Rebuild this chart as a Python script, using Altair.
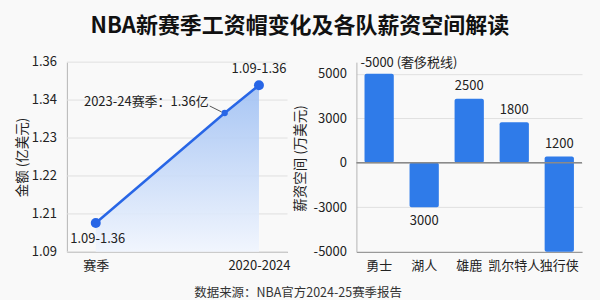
import altair as alt
import pandas as pd

FONT = "Noto Sans CJK SC"

# ---------- left panel data ----------
cap_x = [0.0, 0.79, 1.0]          # horizontal position of the three points
cap_y = [0.76, 3.66, 4.39]        # vertical position on the (evenly spaced) tick scale
cap_text = ["1.09-1.36", "2023-24赛季：1.36亿", "1.09-1.36"]
left_tick_pos = [0, 1, 2, 3, 4, 5]
left_tick_labels = ["1.09", "1.21", "1.22", "1.23", "1.34", "1.36"]
left_x_labels = ["赛季", "2020-2024"]

# ---------- right panel data ----------
teams = ["勇士", "湖人", "雄鹿", "凯尔特人", "独行侠"]
bar_start = [0, 0, 0, 0, -2]
bar_end = [2, -1, 1.44, 0.91, 0.14]
bar_text = ["-5000 (奢侈税线)", "3000", "2500", "1800", "1200"]
right_tick_labels = ["-5000", "-3000", "0", "3000", "5000"]

title_text = "NBA新赛季工资帽变化及各队薪资空间解读"
source_text = "数据来源：NBA官方2024-25赛季报告"

left_df = pd.DataFrame({"x": cap_x, "y": cap_y, "t": cap_text, "i": [0, 1, 2]})
ltick_df = pd.DataFrame({"y": left_tick_pos, "lab": left_tick_labels})
right_df = pd.DataFrame({"team": teams, "s": bar_start, "e": bar_end, "t": bar_text})

BLUE_LINE = "#2866e6"
BLUE_BAR = "#2f7be9"
GRID = "#e0e0e0"
TXT = "#222222"
BG = "#f9f9f9"

def arr(lst):
    return "[" + ",".join("'" + s + "'" for s in lst) + "]"

# ---------- left chart ----------
lx = alt.X("x:Q", scale=alt.Scale(domain=[-0.177, 1.175], nice=False, zero=False),
           axis=alt.Axis(values=[0, 1], labelExpr=arr(left_x_labels) + "[datum.value]",
                         title=None, grid=False, ticks=False, domainColor="#b5b5b5",
                         labelPadding=8, labelFontSize=13, labelColor=TXT, labelFont=FONT))
ly = alt.Y("y:Q", scale=alt.Scale(domain=[0, 5], nice=False, zero=False),
           axis=alt.Axis(values=left_tick_pos, labels=False, grid=False, ticks=False,
                         domainColor="#b5b5b5",
                         title="金额 (亿美元)", titleFontSize=13.5, titleFont=FONT,
                         titleFontWeight="normal", titleColor=TXT,
                         titleX=-44.5, titleY=95, titleAlign="center",
                         titleBaseline="middle", titleAngle=270))

ltick = alt.Chart(ltick_df)
lgrid = ltick.mark_rule(color=GRID, strokeWidth=1).encode(y=alt.Y("y:Q"))
llab = ltick.mark_text(font=FONT, fontSize=13, color=TXT, align="right",
                       baseline="middle").encode(x=alt.value(-10), y="y:Q", text="lab:N")

base_l = alt.Chart(left_df)
area = base_l.mark_area(
    color=alt.Gradient(gradient="linear",
                       stops=[alt.GradientStop(color="#9cbef3", offset=0),
                              alt.GradientStop(color="#f0f5fe", offset=1)],
                       x1=1, x2=1, y1=0, y2=1),
    opacity=0.88).encode(x=lx, y=ly)
line = base_l.mark_line(color=BLUE_LINE, strokeWidth=2.5).encode(x="x:Q", y="y:Q")
pts_end = base_l.mark_circle(color=BLUE_LINE, opacity=1, size=100).encode(
    x="x:Q", y="y:Q").transform_filter("datum.i != 1")
pts_mid = base_l.mark_circle(color=BLUE_LINE, opacity=1, size=40).encode(
    x="x:Q", y="y:Q").transform_filter("datum.i == 1")
txt_first = base_l.mark_text(font=FONT, fontSize=13, color=TXT, dx=2, dy=16).encode(
    x="x:Q", y="y:Q", text="t:N").transform_filter("datum.i == 0")
txt_last = base_l.mark_text(font=FONT, fontSize=13, color=TXT, dy=-16).encode(
    x="x:Q", y="y:Q", text="t:N").transform_filter("datum.i == 2")
txt_mid = base_l.mark_text(font=FONT, fontSize=13, color=TXT, align="right",
                           dx=-16, dy=-11).encode(
    x="x:Q", y="y:Q", text="t:N").transform_filter("datum.i == 1")
leader = base_l.mark_rule(color="#555555", strokeWidth=1, xOffset=-15, yOffset=-7,
                          x2Offset=-3, y2Offset=-1).encode(
    x="x:Q", y="y:Q", x2="x:Q", y2="y:Q").transform_filter("datum.i == 1")

# page-level texts and an invisible frame that fixes the whole page to 600x300
one = alt.Chart(pd.DataFrame({"t": [title_text], "s": [source_text]}))
page_frame = one.mark_rect(opacity=0).encode(
    x=alt.value(-66.7), x2=alt.value(533.3), y=alt.value(-61.7), y2=alt.value(238.3))
page_title = one.mark_text(font=FONT, fontSize=22, fontWeight="bold", color="#111111",
                           baseline="middle").encode(
    x=alt.value(233.3), y=alt.value(-36.5), text="t:N")
page_source = one.mark_text(font=FONT, fontSize=12.5, color="#333333",
                            baseline="middle").encode(
    x=alt.value(231.6), y=alt.value(231), text="s:N")

left = alt.layer(page_frame, lgrid, area, line, leader, pts_end, pts_mid,
                 txt_first, txt_last, txt_mid, llab, page_title, page_source).properties(
    width=221, height=190)

# ---------- right chart ----------
rx = alt.X("team:N", sort=teams,
           scale=alt.Scale(paddingInner=0.35, paddingOuter=0.18),
           axis=alt.Axis(title=None, labelAngle=0, ticks=False, domainColor="#8a8a8a",
                         labelPadding=8, labelFontSize=13, labelColor=TXT, labelFont=FONT))
ry = alt.Y("s:Q", scale=alt.Scale(domain=[-2, 2.26], nice=False, zero=False),
           axis=alt.Axis(values=[-2, -1, 0, 1, 2], labelOverlap=False,
                         labelExpr=arr(right_tick_labels) + "[datum.value + 2]",
                         title="薪资空间 (万美元)", titleFontSize=13.5, titleFont=FONT,
                         titleFontWeight="normal", titleColor=TXT,
                         titleX=-55.5, titleY=96, titleAlign="center",
                         titleBaseline="middle", titleAngle=270,
                         grid=True, gridColor=GRID, ticks=False, domainColor="#b5b5b5",
                         labelPadding=10, labelFontSize=13, labelColor=TXT, labelFont=FONT))

base_r = alt.Chart(right_df)
bars = base_r.mark_bar(color=BLUE_BAR, cornerRadius=2).encode(x=rx, y=ry, y2="e:Q")
zero = alt.Chart(pd.DataFrame({"z": [0]})).mark_rule(color="#8a8a8a", strokeWidth=1.5).encode(
    y="z:Q")
lab = base_r.transform_calculate(
    top="max(datum.s, datum.e)", bot="min(datum.s, datum.e)")
lab_first = lab.mark_text(font=FONT, fontSize=13, color=TXT, dy=-11, dx=-4,
                          align="left").encode(
    x=alt.X("team:N", sort=teams, bandPosition=0), y="top:Q", text="t:N").transform_filter(
    "datum.team == '" + teams[0] + "'")
lab_up = lab.mark_text(font=FONT, fontSize=13, color=TXT, dy=-12.5).encode(
    x=alt.X("team:N", sort=teams), y="top:Q", text="t:N").transform_filter(
    "datum.top > 0 && datum.team != '" + teams[0] + "'")
lab_dn = lab.mark_text(font=FONT, fontSize=13, color=TXT, dy=13.5).encode(
    x=alt.X("team:N", sort=teams), y="bot:Q", text="t:N").transform_filter("datum.top <= 0")

right = alt.layer(bars, zero, lab_first, lab_up, lab_dn).properties(width=226, height=190)

chart = alt.hconcat(left, right, spacing=69, bounds="flush").properties(
    padding=0,
    background=BG,
).configure_view(strokeWidth=0)

chart.save("out.html", embed_options={"renderer": "svg", "actions": False})
